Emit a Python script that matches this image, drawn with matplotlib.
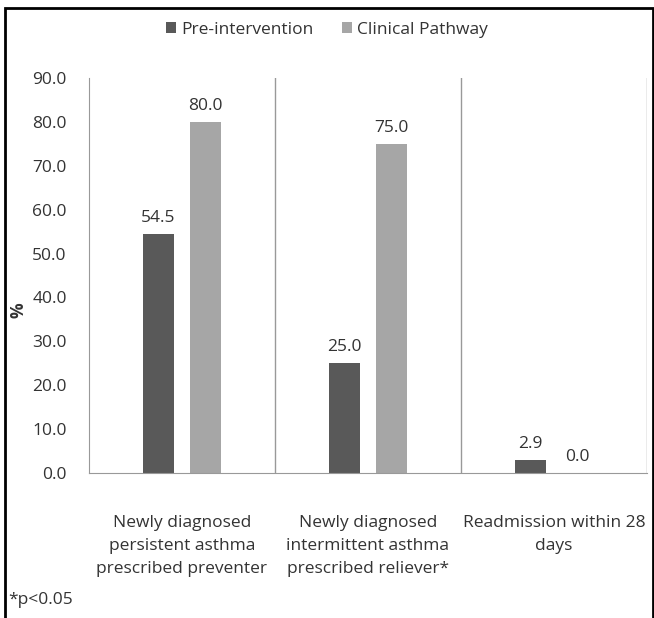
import numpy as np
import matplotlib.pyplot as plt
from matplotlib.patches import Rectangle

categories = ['Newly diagnosed\npersistent asthma\nprescribed preventer',
              'Newly diagnosed\nintermittent asthma\nprescribed reliever*',
              'Readmission within 28\ndays']
pre = [54.5, 25.0, 2.9]
pathway = [80.0, 75.0, 0.0]
series_names = ['Pre-intervention', 'Clinical Pathway']

plt.rcParams['font.family'] = ['Open Sans', 'DejaVu Sans']
txt = '#333333'
fs = 12.5

fig = plt.figure(figsize=(6.54, 6.18), dpi=100)
ax = fig.add_axes([89/654, 1 - 473/618, 558/654, 395/618])

x = np.arange(len(categories))
w = 0.17
b1 = ax.bar(x - 0.126, pre, w, color='#595959', label=series_names[0])
b2 = ax.bar(x + 0.126, pathway, w, color='#a6a6a6', label=series_names[1])

for bars in (b1, b2):
    for r in bars:
        ax.text(r.get_x() + r.get_width() / 2, r.get_height() + 1.8,
                f'{r.get_height():.1f}', ha='center', va='bottom',
                fontsize=fs, color=txt)

ax.set_xlim(-0.5, 2.5)
ax.set_ylim(0, 90)
ax.set_yticks(np.arange(0, 91, 10))
ax.set_yticklabels([f'{v:.1f}' for v in np.arange(0, 91, 10)])
ax.set_xticks(x)
ax.set_xticklabels(categories, fontsize=fs, color=txt, linespacing=1.6)
ax.tick_params(axis='y', labelsize=fs, labelcolor=txt, length=0, pad=16)
ax.tick_params(axis='x', length=0, pad=30)

# separators between categories
for s in [0.5, 1.5, 2.5]:
    ax.axvline(s, color='#999999', lw=1)
for sp in ['top', 'right']:
    ax.spines[sp].set_visible(False)
ax.spines['left'].set_color('#999999')
ax.spines['bottom'].set_color('#999999')

fig.text(18/654, 1 - 310/618, '%', fontsize=fs, color=txt, rotation=90,
         ha='center', va='center', fontweight='bold')

fig.legend(loc='upper center', bbox_to_anchor=(0.5, 0.99), ncol=2,
           frameon=False, fontsize=fs, handlelength=0.6, handleheight=0.6,
           handletextpad=0.3, columnspacing=1.6, labelcolor=txt)

fig.text(8/654, 1 - 600/618, '*p<0.05', fontsize=fs, color=txt, va='center')

fig.patches.append(Rectangle((0.008, -0.01), 0.99, 0.997, transform=fig.transFigure,
                             fill=False, edgecolor='black', lw=2))

fig.savefig('out.png', dpi=100)
